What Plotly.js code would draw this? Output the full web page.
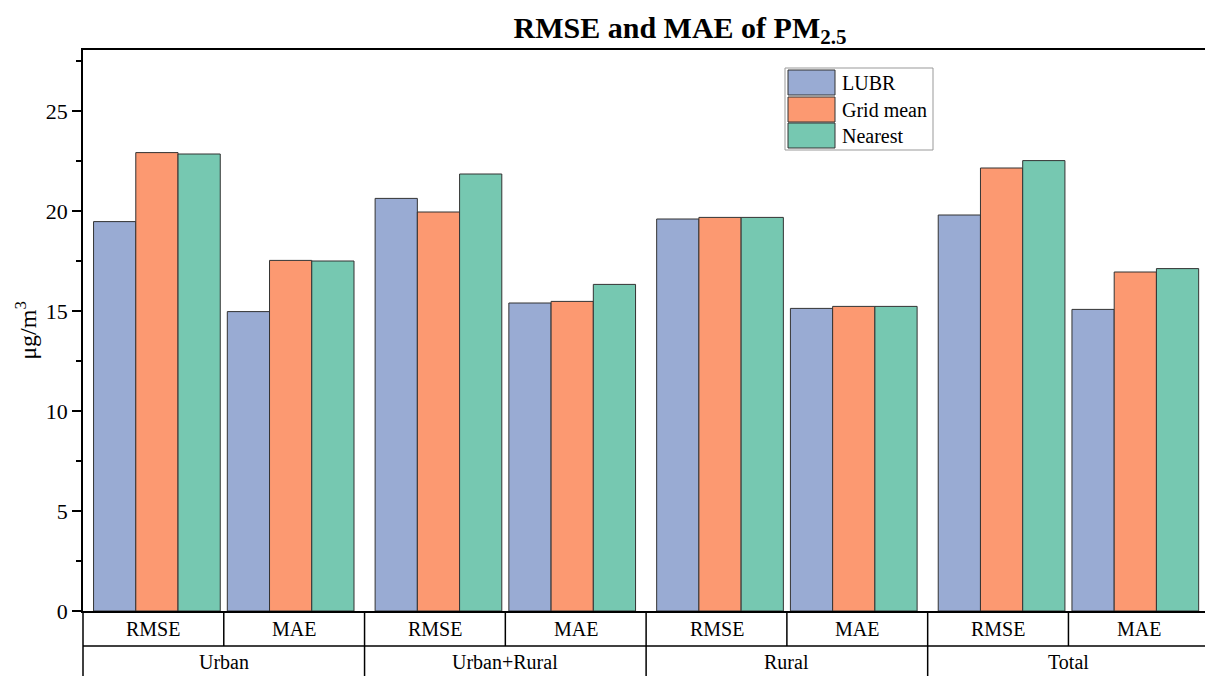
<!DOCTYPE html>
<html>
<head>
<meta charset="utf-8">
<script src="https://cdn.plot.ly/plotly-3.0.1.min.js"></script>
<style>html,body{margin:0;padding:0;overflow:hidden;background:#fff;}</style>
</head>
<body>
<div id="chart" style="width:1205px;height:676px;"></div>
<script>
const groups = ['Urban', 'Urban+Rural', 'Rural', 'Total'];
const metrics = ['RMSE', 'MAE'];
const seriesNames = ['LUBR', 'Grid mean', 'Nearest'];
const lubr     = [19.47, 14.97, 20.63, 15.40, 19.60, 15.13, 19.80, 15.08];
const gridMean = [22.92, 17.53, 19.95, 15.48, 19.68, 15.23, 22.15, 16.95];
const nearest  = [22.85, 17.50, 21.85, 16.33, 19.68, 15.23, 22.52, 17.12];
const colors = ['#99abd3', '#fc9971', '#76c8b1'];

const W = 1205, H = 676, ML = 83, MR = 0, MT = 50, MB = 65;
const PW = W - ML - MR, PH = H - MT - MB;
const XR = [-0.5, 7.47];
const px = v => (v - ML) / PW;          // pixel x -> paper
const py = v => (H - MB - v) / PH;      // pixel y -> paper
const xp = x => (x - XR[0]) / (XR[1] - XR[0]); // data x -> paper

const nCat = groups.length * metrics.length;
const xs = Array.from({length: nCat}, (_, i) => i);
const barW = 0.3;
const allVals = [lubr, gridMean, nearest];

const traces = allVals.map((vals, s) => ({
  type: 'bar',
  name: seriesNames[s],
  x: xs,
  y: vals,
  width: barW,
  offset: xs.map(i => (s - 1.5) * barW + (i % 2 === 0 ? 0.025 : -0.025)),
  marker: {color: colors[s], line: {color: '#333', width: 1}},
  showlegend: false,
  hovertemplate: '%{y}<extra>' + seriesNames[s] + '</extra>'
}));

const shapes = [];
const annotations = [];
const lineStyle = {color: '#000', width: 1.5};
// table horizontal line
shapes.push({type: 'line', xref: 'paper', yref: 'paper', x0: 0, x1: 1, y0: py(646), y1: py(646), line: lineStyle});
// left axis extension
shapes.push({type: 'line', xref: 'paper', yref: 'paper', x0: 0, x1: 0, y0: py(611), y1: py(680), line: lineStyle});
for (let k = 0; k < nCat - 1; k++) {
  const isGroupEdge = (k % metrics.length) === metrics.length - 1;
  const xpos = xp(k + 0.5);
  shapes.push({type: 'line', xref: 'paper', yref: 'paper', x0: xpos, x1: xpos,
    y0: py(611), y1: isGroupEdge ? py(680) : py(646), line: lineStyle});
}
xs.forEach(i => {
  annotations.push({xref: 'x', yref: 'paper', x: i, y: py(629), text: metrics[i % metrics.length],
    showarrow: false, font: {family: 'Liberation Serif', size: 20, color: '#000'}, yanchor: 'middle'});
});
groups.forEach((g, gi) => {
  annotations.push({xref: 'x', yref: 'paper', x: gi * metrics.length + (metrics.length - 1) / 2, y: py(662), text: g,
    showarrow: false, font: {family: 'Liberation Serif', size: 20, color: '#000'}, yanchor: 'middle'});
});

// custom legend
shapes.push({type: 'rect', xref: 'paper', yref: 'paper', x0: px(785), x1: px(933), y0: py(68), y1: py(150),
  line: {color: '#999', width: 1}, fillcolor: '#fff'});
const rowTop = [70, 97, 123];
seriesNames.forEach((n, s) => {
  shapes.push({type: 'rect', xref: 'paper', yref: 'paper', x0: px(788), x1: px(835),
    y0: py(rowTop[s]), y1: py(rowTop[s] + 25), line: {color: '#333', width: 1}, fillcolor: colors[s]});
  annotations.push({xref: 'paper', yref: 'paper', x: px(840), y: py(rowTop[s] + 12.5), text: n, showarrow: false,
    xanchor: 'left', yanchor: 'middle', font: {family: 'Liberation Serif', size: 20, color: '#000'}});
});

const layout = {
  width: W, height: H,
  margin: {l: ML, r: MR, t: MT, b: MB},
  paper_bgcolor: '#fff', plot_bgcolor: '#fff',
  barmode: 'overlay',
  title: {text: '<b>RMSE and MAE of PM<sub>2.5</sub></b>', x: px(680), xanchor: 'center', xref: 'paper',
    y: 1 - 27 / H, yref: 'container', yanchor: 'middle',
    font: {family: 'Liberation Serif', size: 30, color: '#000'}},
  xaxis: {range: XR, showticklabels: false, ticks: '', showgrid: false, zeroline: false,
    showline: true, linecolor: '#000', linewidth: 1.5, mirror: true, fixedrange: true},
  yaxis: {range: [0, 28.05], dtick: 5, tick0: 0, ticks: 'outside', ticklen: 9, tickwidth: 1.5, tickcolor: '#000',
    showline: true, linecolor: '#000', linewidth: 1.5, showgrid: false, zeroline: false,
    minor: {dtick: 2.5, ticks: 'outside', ticklen: 5, tickwidth: 1.5, tickcolor: '#000', showgrid: false},
    tickfont: {family: 'Liberation Serif', size: 22, color: '#000'},
    title: {text: 'μg/m<sup>3</sup>', font: {family: 'Liberation Serif', size: 24, color: '#000'}, standoff: 2}},
  shapes: shapes,
  annotations: annotations,
  font: {family: 'Liberation Serif'}
};

Plotly.newPlot('chart', traces, layout, {displayModeBar: false, staticPlot: false});
</script>
</body>
</html>
